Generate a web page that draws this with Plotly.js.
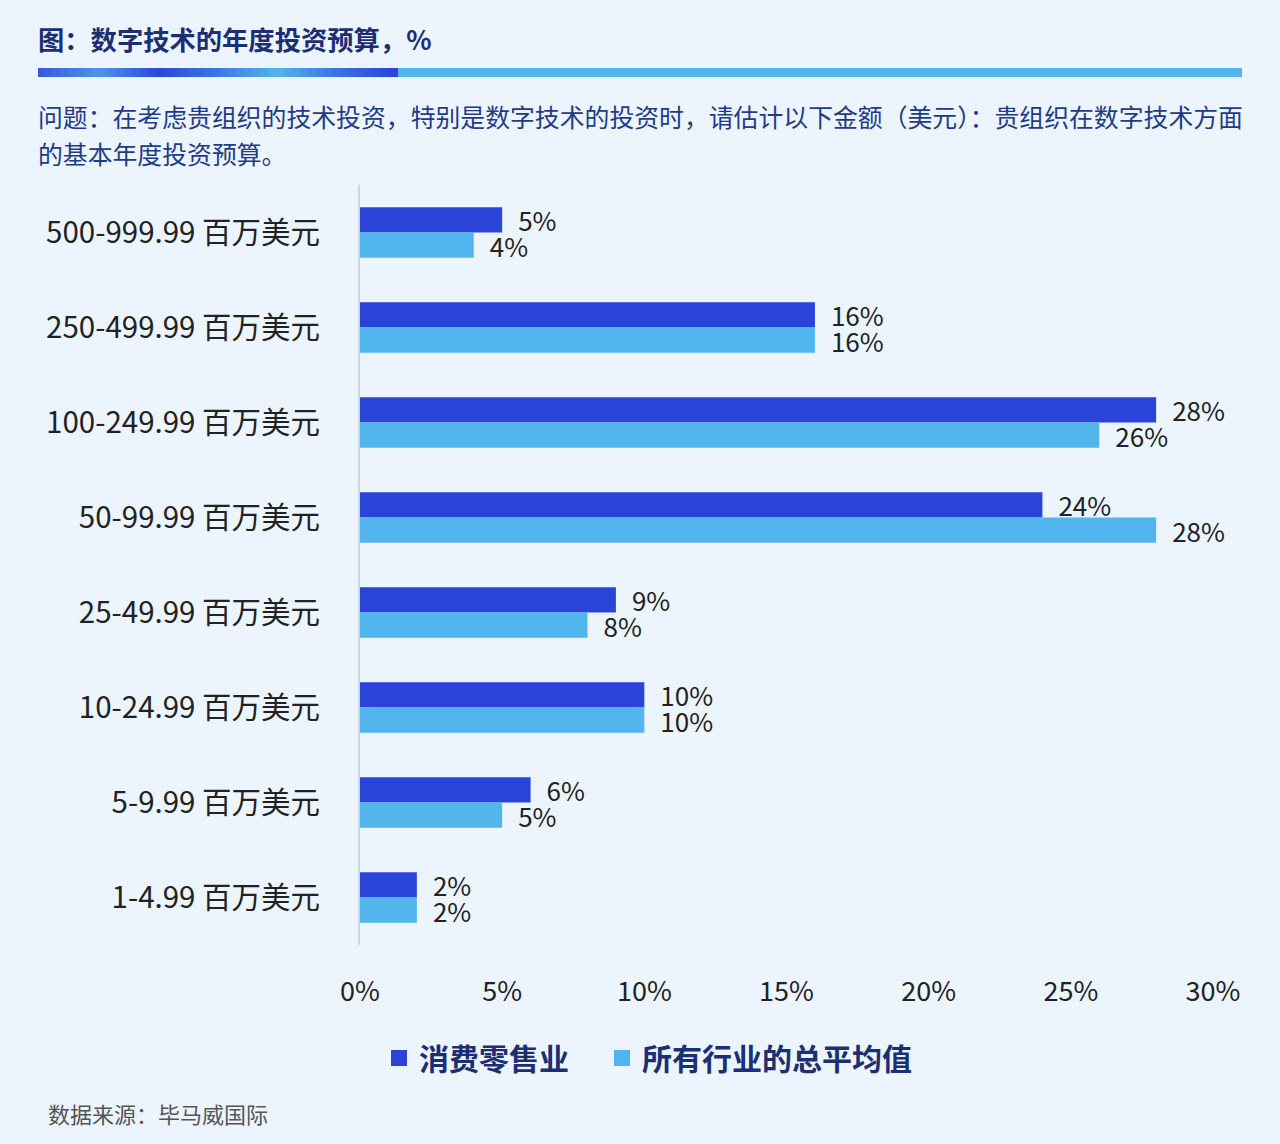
<!DOCTYPE html>
<html>
<head>
<meta charset="utf-8">
<script src="https://cdn.plot.ly/plotly-3.0.1.min.js"></script>
<style>
  html, body { margin: 0; padding: 0; background: #ecf4fd; }
  #chart { width: 1280px; height: 1144px; }
</style>
</head>
<body>
<div id="chart"></div>
<script>
/* global Plotly */

const categories = [
  '500-999.99 百万美元',
  '250-499.99 百万美元',
  '100-249.99 百万美元',
  '50-99.99 百万美元',
  '25-49.99 百万美元',
  '10-24.99 百万美元',
  '5-9.99 百万美元',
  '1-4.99 百万美元'
]
const retailValues = [5, 16, 28, 24, 9, 10, 6, 2]
const allIndustryValues = [4, 16, 26, 28, 8, 10, 5, 2]
const seriesNames = ['消费零售业', '所有行业的总平均值']
const xTickValues = [0, 5, 10, 15, 20, 25, 30]
const xTickLabels = ['0%', '5%', '10%', '15%', '20%', '25%', '30%']

const colors = {
  retail: '#2a44d9',
  average: '#52b5ee',
  navy: '#1c2f72',
  text: '#222222'
}

const FONT = '"Noto Sans CJK SC", "Noto Sans", sans-serif'

// plot area in pixels, used to place the decorations around it
const plot = { left: 360, right: 1213, top: 185, bottom: 945 }
const px = (x) => (x - plot.left) / (plot.right - plot.left)
const py = (y) => (plot.bottom - y) / (plot.bottom - plot.top)

// stripe under the title: a blended part, then flat light blue
const stripeStops = ['#3a5ade', '#4c95e8', '#2c47d8', '#3d78e2', '#52b5ee', '#3c72e1', '#2a44d9']
function hexToRgb (h) {
  return [1, 3, 5].map(i => parseInt(h.slice(i, i + 2), 16))
}
function blend (t) {
  const pos = t * (stripeStops.length - 1)
  const i = Math.min(Math.floor(pos), stripeStops.length - 2)
  const f = pos - i
  const a = hexToRgb(stripeStops[i])
  const b = hexToRgb(stripeStops[i + 1])
  const c = a.map((v, k) => Math.round(v + (b[k] - v) * f))
  return 'rgb(' + c.join(',') + ')'
}
const shapes = []
const gradStart = 38
const gradEnd = 398
const slices = 90
for (let i = 0; i < slices; i++) {
  shapes.push({
    type: 'rect', xref: 'paper', yref: 'paper',
    x0: px(gradStart + (gradEnd - gradStart) * i / slices),
    x1: px(gradStart + (gradEnd - gradStart) * (i + 1) / slices + 0.6),
    y0: py(77), y1: py(68),
    fillcolor: blend(i / (slices - 1)), line: { width: 0 }
  })
}
shapes.push({
  type: 'rect', xref: 'paper', yref: 'paper',
  x0: px(gradEnd), x1: px(1242), y0: py(77), y1: py(68),
  fillcolor: '#52b5ee', line: { width: 0 }
})

const labelFont = { family: FONT, size: 26, color: colors.text }

function barTrace (name, values, color) {
  return {
    type: 'bar',
    orientation: 'h',
    name: name,
    y: categories,
    x: values,
    marker: { color: color },
    text: values.map(v => v + '%'),
    texttemplate: '\u2002%{text}',
    textposition: 'outside',
    constraintext: 'none',
    textfont: labelFont,
    cliponaxis: false,
    showlegend: false,
    hoverinfo: 'skip'
  }
}

// legend-only entries so the legend squares can be sized like the original
function legendTrace (name, color, legendId) {
  return {
    type: 'scatter',
    mode: 'markers',
    name: name,
    legend: legendId,
    x: [null],
    y: [null],
    marker: { symbol: 'square', size: 20, color: color },
    hoverinfo: 'skip'
  }
}

const traces = [
  barTrace(seriesNames[0], retailValues, colors.retail),
  barTrace(seriesNames[1], allIndustryValues, colors.average),
  legendTrace(seriesNames[0], colors.retail, 'legend'),
  legendTrace(seriesNames[1], colors.average, 'legend2')
]

const legendStyle = (x) => ({
  orientation: 'h',
  x: px(x),
  y: py(1058),
  xanchor: 'left',
  yanchor: 'middle',
  font: { family: FONT, size: 30, color: colors.navy, weight: 'bold' },
  itemwidth: 30,
  bgcolor: 'rgba(0,0,0,0)'
})

const layout = {
  width: 1280,
  height: 1144,
  paper_bgcolor: '#ecf4fd',
  plot_bgcolor: 'rgba(0,0,0,0)',
  margin: { l: plot.left, r: 1280 - plot.right, t: plot.top, b: 1144 - plot.bottom },
  barmode: 'group',
  bargap: 0.47,
  bargroupgap: 0,
  showlegend: true,
  font: { family: FONT },
  xaxis: {
    range: [0, 30],
    tickvals: xTickValues,
    ticktext: xTickLabels,
    showgrid: false,
    zeroline: false,
    showline: false,
    ticks: '',
    ticklabelstandoff: 28,
    tickfont: { family: FONT, size: 27, color: colors.text },
    fixedrange: true
  },
  yaxis: {
    type: 'category',
    autorange: 'reversed',
    showgrid: false,
    zeroline: false,
    showline: true,
    linecolor: '#d2d6dc',
    linewidth: 2,
    ticks: '',
    ticklabelstandoff: 32,
    tickfont: { family: FONT, size: 29.5, color: colors.text },
    fixedrange: true
  },
  legend: legendStyle(379),
  legend2: legendStyle(602),
  shapes: shapes,
  annotations: [
    {
      xref: 'paper', yref: 'paper', x: px(36), y: py(38),
      xanchor: 'left', yanchor: 'middle', showarrow: false,
      text: '<b>图：数字技术的年度投资预算，%</b>',
      font: { family: FONT, size: 26.3, color: colors.navy }
    },
    {
      xref: 'paper', yref: 'paper', x: px(36), y: py(116),
      xanchor: 'left', yanchor: 'middle', showarrow: false,
      text: '问题：在考虑贵组织的技术投资，特别是数字技术的投资时，请估计以下金额（美元）：贵组织在数字技术方面',
      font: { family: FONT, size: 24.85, color: '#1f3b86' }
    },
    {
      xref: 'paper', yref: 'paper', x: px(36), y: py(153),
      xanchor: 'left', yanchor: 'middle', showarrow: false,
      text: '的基本年度投资预算。',
      font: { family: FONT, size: 24.85, color: '#1f3b86' }
    },
    {
      xref: 'paper', yref: 'paper', x: px(46), y: py(1113),
      xanchor: 'left', yanchor: 'middle', showarrow: false,
      text: '数据来源：毕马威国际',
      font: { family: FONT, size: 22, color: '#555555' }
    }
  ]
}

Plotly.newPlot('chart', traces, layout, { displayModeBar: false, staticPlot: true })
</script>
</body>
</html>
